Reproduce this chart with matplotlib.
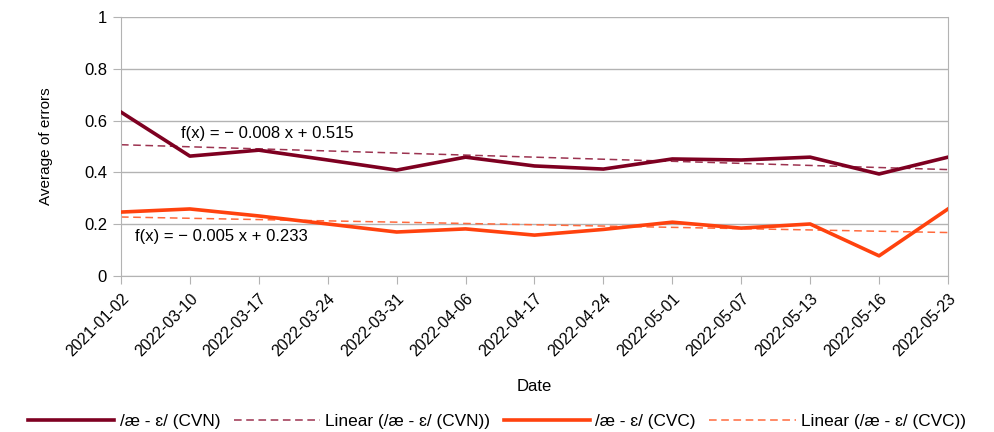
import matplotlib
matplotlib.use('Agg')
import matplotlib.pyplot as plt
import numpy as np

plt.rcParams['font.family'] = ['Liberation Sans', 'DejaVu Sans']

dates = ['2021-01-02', '2022-03-10', '2022-03-17', '2022-03-24', '2022-03-31',
         '2022-04-06', '2022-04-17', '2022-04-24', '2022-05-01', '2022-05-07',
         '2022-05-13', '2022-05-16', '2022-05-23']
cvn = [0.633, 0.463, 0.486, 0.448, 0.409, 0.459, 0.425, 0.413, 0.452, 0.448, 0.459, 0.394, 0.459]
cvc = [0.247, 0.259, 0.232, 0.201, 0.170, 0.182, 0.158, 0.180, 0.208, 0.185, 0.201, 0.078, 0.259]

# trend line coefficients as printed on the chart (x = 1..n)
cvn_slope, cvn_icpt = -0.008, 0.515
cvc_slope, cvc_icpt = -0.005, 0.233

dark = '#7e0021'
orange = '#ff420e'
fs = 12

fig = plt.figure(figsize=(9.94, 4.32), dpi=100)
ax = fig.add_axes([0.1217, 0.361, 0.832, 0.5996])

x = np.arange(len(dates))
xn = x + 1
ax.plot(x, cvn, color=dark, lw=2.6, label='/æ - ɛ/ (CVN)', zorder=3)
ax.plot(x, cvn_slope * xn + cvn_icpt, color='#9c3350', lw=1.1, ls=(0, (5, 3)),
        label='Linear (/æ - ɛ/ (CVN))', zorder=2)
ax.plot(x, cvc, color=orange, lw=2.6, label='/æ - ɛ/ (CVC)', zorder=3)
ax.plot(x, cvc_slope * xn + cvc_icpt, color='#ff6a3d', lw=1.1, ls=(0, (5, 3)),
        label='Linear (/æ - ɛ/ (CVC))', zorder=2)

ax.text(0.87, 0.552, 'f(x) = \u2212 0.008 x + 0.515', fontsize=fs, va='center', ha='left')
ax.text(0.2, 0.151, 'f(x) = \u2212 0.005 x + 0.233', fontsize=fs, va='center', ha='left')

ax.set_xlim(0, len(dates) - 1)
ax.set_ylim(0, 1)
ax.set_yticks([0, 0.2, 0.4, 0.6, 0.8, 1])
ax.set_yticklabels(['0', '0.2', '0.4', '0.6', '0.8', '1'])
ax.set_xticks(x)
ax.set_xticklabels(dates, rotation=45, ha='right', rotation_mode='anchor')
ax.tick_params(axis='x', length=6, color='#b3b3b3', labelsize=11.5, pad=5)
ax.tick_params(axis='y', length=6, color='#b3b3b3', labelsize=fs, pad=4)
ax.grid(axis='y', color='#b3b3b3', lw=1)
ax.set_axisbelow(True)
for s in ['left', 'right', 'bottom', 'top']:
    ax.spines[s].set_color('#b3b3b3')
ax.spines['top'].set_visible(False)

ax.set_xlabel('Date', fontsize=fs, labelpad=14)
ax.set_ylabel('Average of errors', fontsize=11, labelpad=22)

fig.legend(loc='lower center', bbox_to_anchor=(0.5, -0.03), ncol=4, frameon=False,
           fontsize=12.4, handlelength=5.0, columnspacing=0.8, handletextpad=0.3)

fig.savefig('out.png', dpi=100)
